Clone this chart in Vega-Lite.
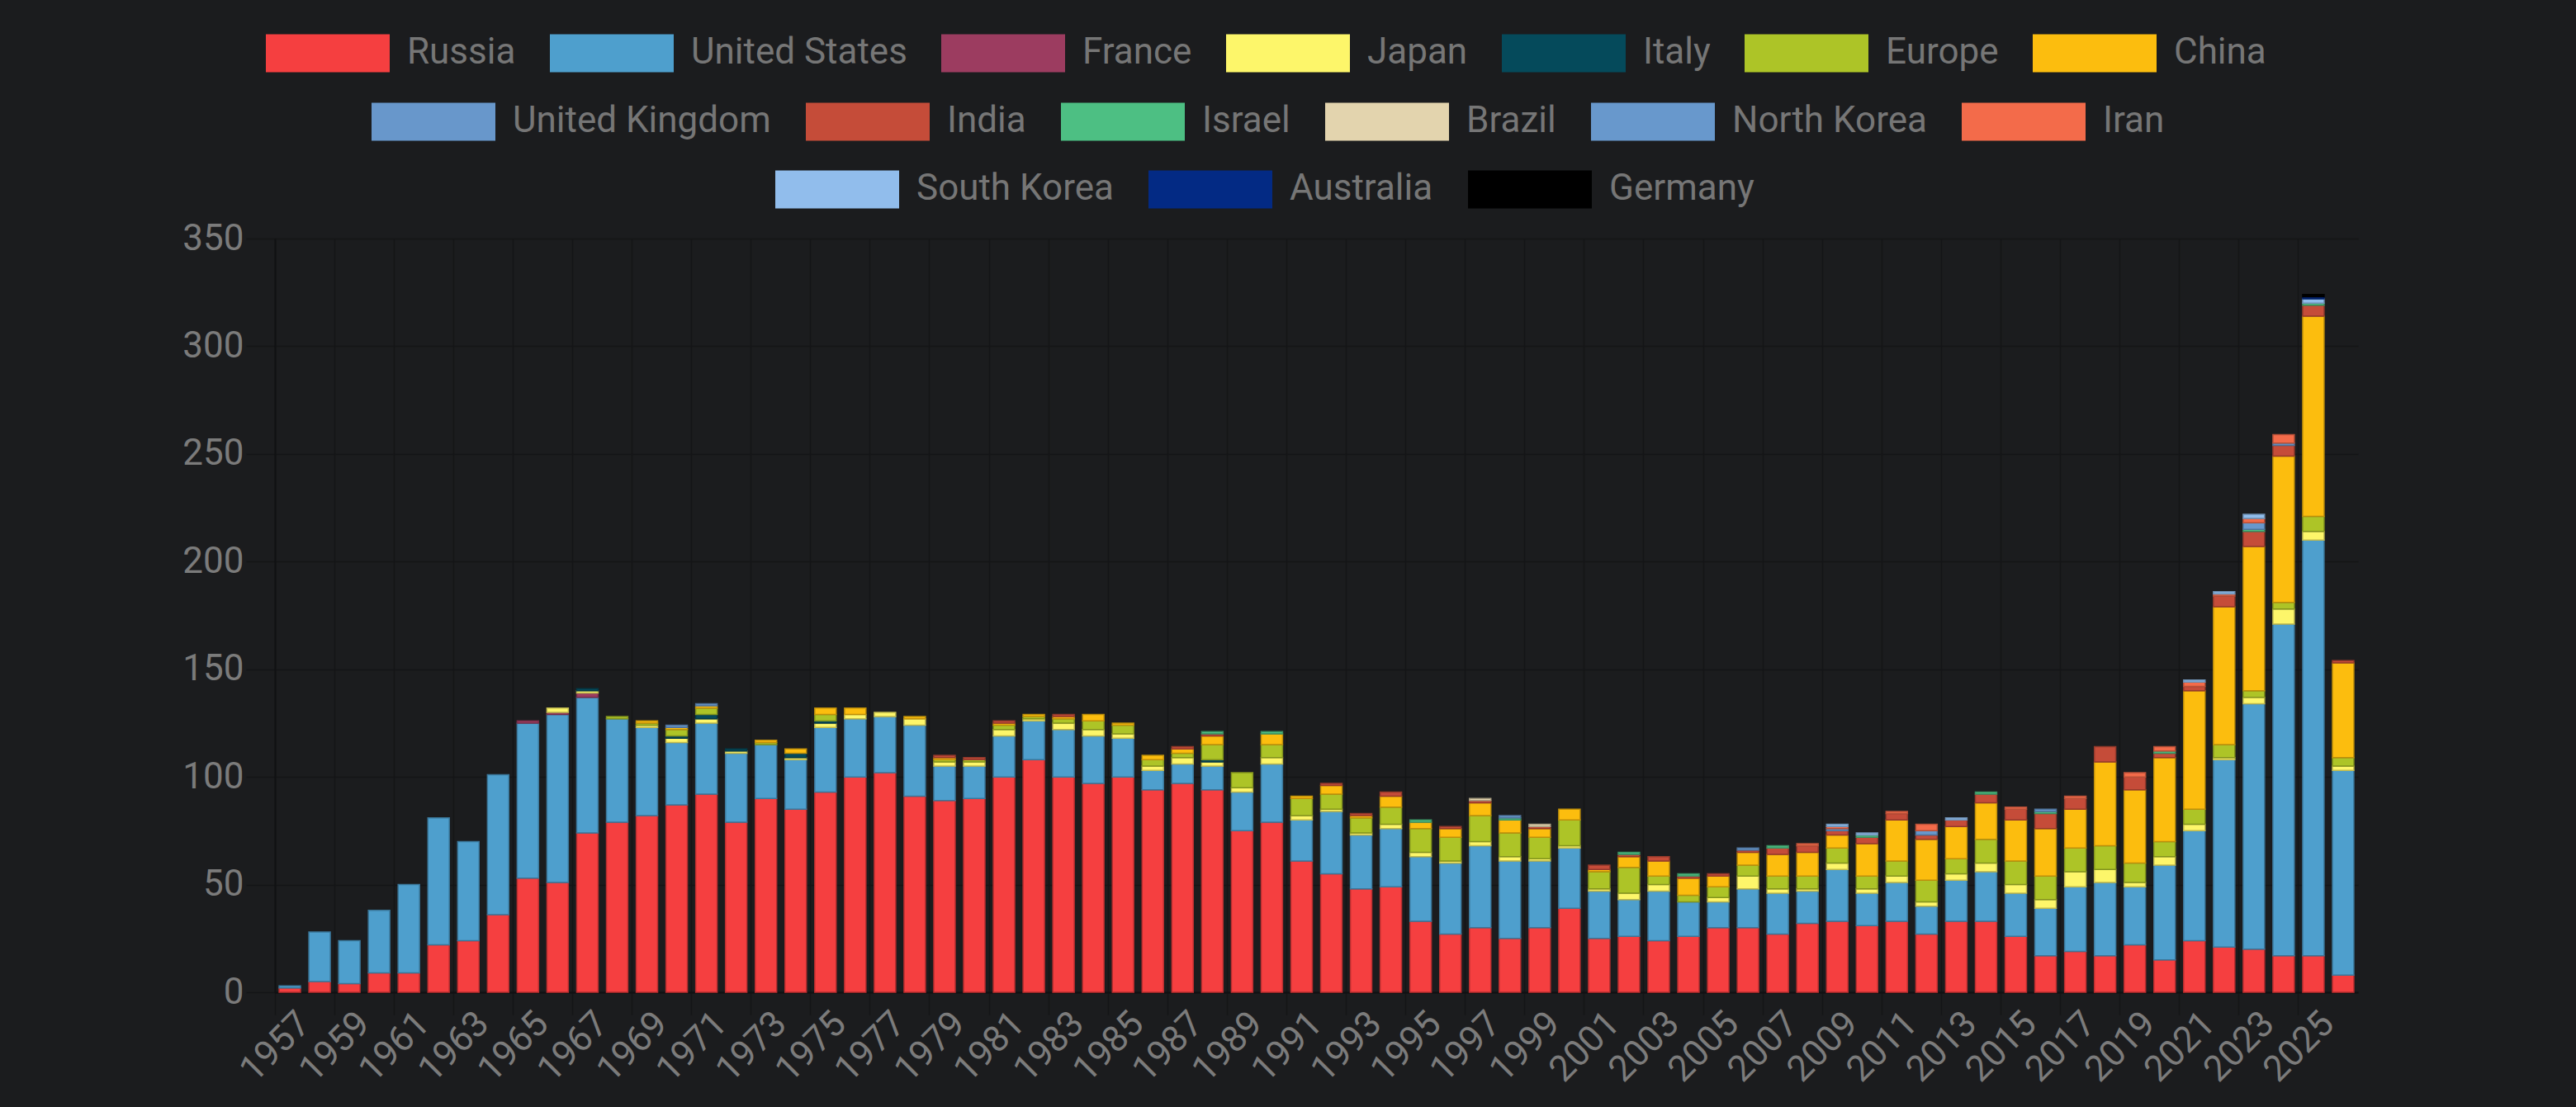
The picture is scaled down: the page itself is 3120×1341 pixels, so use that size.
{
"$schema":"https://vega.github.io/schema/vega-lite/v6.json",
"width":2523,"height":913,
"autosize":{"type":"none"},
"padding":{"left":333,"top":289,"right":264,"bottom":139},
"background":"#1b1c1e",
"config":{"view":{"stroke":null},"font":"Roboto"},
"datasets":{
"stackOrder":[{"country":"Russia","rank":1},{"country":"United States","rank":2},{"country":"France","rank":3},{"country":"Japan","rank":4},{"country":"Italy","rank":5},{"country":"Europe","rank":6},{"country":"China","rank":7},{"country":"United Kingdom","rank":8},{"country":"India","rank":9},{"country":"Israel","rank":10},{"country":"Brazil","rank":11},{"country":"North Korea","rank":12},{"country":"Iran","rank":13},{"country":"South Korea","rank":14},{"country":"Australia","rank":15},{"country":"Germany","rank":16}],
"launches":[
{"year":1957,"country":"Russia","launches":2},{"year":1957,"country":"United States","launches":1},
{"year":1958,"country":"Russia","launches":5},{"year":1958,"country":"United States","launches":23},
{"year":1959,"country":"Russia","launches":4},{"year":1959,"country":"United States","launches":20},
{"year":1960,"country":"Russia","launches":9},{"year":1960,"country":"United States","launches":29},
{"year":1961,"country":"Russia","launches":9},{"year":1961,"country":"United States","launches":41},
{"year":1962,"country":"Russia","launches":22},{"year":1962,"country":"United States","launches":59},
{"year":1963,"country":"Russia","launches":24},{"year":1963,"country":"United States","launches":46},
{"year":1964,"country":"Russia","launches":36},{"year":1964,"country":"United States","launches":65},
{"year":1965,"country":"Russia","launches":53},{"year":1965,"country":"United States","launches":72},{"year":1965,"country":"France","launches":1},
{"year":1966,"country":"Russia","launches":51},{"year":1966,"country":"United States","launches":78},{"year":1966,"country":"France","launches":1},{"year":1966,"country":"Japan","launches":2},
{"year":1967,"country":"Russia","launches":74},{"year":1967,"country":"United States","launches":63},{"year":1967,"country":"France","launches":2},{"year":1967,"country":"Japan","launches":1},{"year":1967,"country":"Italy","launches":1},
{"year":1968,"country":"Russia","launches":79},{"year":1968,"country":"United States","launches":48},{"year":1968,"country":"Europe","launches":1},
{"year":1969,"country":"Russia","launches":82},{"year":1969,"country":"United States","launches":41},{"year":1969,"country":"Japan","launches":1},{"year":1969,"country":"Europe","launches":1},{"year":1969,"country":"China","launches":1},
{"year":1970,"country":"Russia","launches":87},{"year":1970,"country":"United States","launches":29},{"year":1970,"country":"Japan","launches":2},{"year":1970,"country":"Italy","launches":1},{"year":1970,"country":"Europe","launches":3},{"year":1970,"country":"China","launches":1},{"year":1970,"country":"United Kingdom","launches":1},
{"year":1971,"country":"Russia","launches":92},{"year":1971,"country":"United States","launches":33},{"year":1971,"country":"Japan","launches":2},{"year":1971,"country":"Italy","launches":2},{"year":1971,"country":"Europe","launches":3},{"year":1971,"country":"China","launches":1},{"year":1971,"country":"United Kingdom","launches":1},
{"year":1972,"country":"Russia","launches":79},{"year":1972,"country":"United States","launches":32},{"year":1972,"country":"Japan","launches":1},{"year":1972,"country":"Italy","launches":1},
{"year":1973,"country":"Russia","launches":90},{"year":1973,"country":"United States","launches":25},{"year":1973,"country":"Europe","launches":1},{"year":1973,"country":"China","launches":1},
{"year":1974,"country":"Russia","launches":85},{"year":1974,"country":"United States","launches":23},{"year":1974,"country":"Japan","launches":1},{"year":1974,"country":"Italy","launches":2},{"year":1974,"country":"China","launches":2},
{"year":1975,"country":"Russia","launches":93},{"year":1975,"country":"United States","launches":30},{"year":1975,"country":"Japan","launches":2},{"year":1975,"country":"Italy","launches":1},{"year":1975,"country":"Europe","launches":3},{"year":1975,"country":"China","launches":3},
{"year":1976,"country":"Russia","launches":100},{"year":1976,"country":"United States","launches":27},{"year":1976,"country":"Japan","launches":2},{"year":1976,"country":"China","launches":3},
{"year":1977,"country":"Russia","launches":102},{"year":1977,"country":"United States","launches":26},{"year":1977,"country":"Japan","launches":2},
{"year":1978,"country":"Russia","launches":91},{"year":1978,"country":"United States","launches":33},{"year":1978,"country":"Japan","launches":3},{"year":1978,"country":"China","launches":1},
{"year":1979,"country":"Russia","launches":89},{"year":1979,"country":"United States","launches":16},{"year":1979,"country":"Japan","launches":2},{"year":1979,"country":"Europe","launches":1},{"year":1979,"country":"China","launches":1},{"year":1979,"country":"India","launches":1},
{"year":1980,"country":"Russia","launches":90},{"year":1980,"country":"United States","launches":15},{"year":1980,"country":"Japan","launches":2},{"year":1980,"country":"Europe","launches":1},{"year":1980,"country":"India","launches":1},
{"year":1981,"country":"Russia","launches":100},{"year":1981,"country":"United States","launches":19},{"year":1981,"country":"Japan","launches":3},{"year":1981,"country":"Europe","launches":2},{"year":1981,"country":"China","launches":1},{"year":1981,"country":"India","launches":1},
{"year":1982,"country":"Russia","launches":108},{"year":1982,"country":"United States","launches":18},{"year":1982,"country":"Japan","launches":1},{"year":1982,"country":"Europe","launches":1},{"year":1982,"country":"China","launches":1},
{"year":1983,"country":"Russia","launches":100},{"year":1983,"country":"United States","launches":22},{"year":1983,"country":"Japan","launches":3},{"year":1983,"country":"Europe","launches":2},{"year":1983,"country":"China","launches":1},{"year":1983,"country":"India","launches":1},
{"year":1984,"country":"Russia","launches":97},{"year":1984,"country":"United States","launches":22},{"year":1984,"country":"Japan","launches":3},{"year":1984,"country":"Europe","launches":4},{"year":1984,"country":"China","launches":3},
{"year":1985,"country":"Russia","launches":100},{"year":1985,"country":"United States","launches":18},{"year":1985,"country":"Japan","launches":2},{"year":1985,"country":"Europe","launches":4},{"year":1985,"country":"China","launches":1},
{"year":1986,"country":"Russia","launches":94},{"year":1986,"country":"United States","launches":9},{"year":1986,"country":"Japan","launches":2},{"year":1986,"country":"Europe","launches":3},{"year":1986,"country":"China","launches":2},
{"year":1987,"country":"Russia","launches":97},{"year":1987,"country":"United States","launches":9},{"year":1987,"country":"Japan","launches":3},{"year":1987,"country":"Europe","launches":2},{"year":1987,"country":"China","launches":2},{"year":1987,"country":"India","launches":1},
{"year":1988,"country":"Russia","launches":94},{"year":1988,"country":"United States","launches":11},{"year":1988,"country":"Japan","launches":2},{"year":1988,"country":"Italy","launches":1},{"year":1988,"country":"Europe","launches":7},{"year":1988,"country":"China","launches":4},{"year":1988,"country":"India","launches":1},{"year":1988,"country":"Israel","launches":1},
{"year":1989,"country":"Russia","launches":75},{"year":1989,"country":"United States","launches":18},{"year":1989,"country":"Japan","launches":2},{"year":1989,"country":"Europe","launches":7},
{"year":1990,"country":"Russia","launches":79},{"year":1990,"country":"United States","launches":27},{"year":1990,"country":"Japan","launches":3},{"year":1990,"country":"Europe","launches":6},{"year":1990,"country":"China","launches":5},{"year":1990,"country":"Israel","launches":1},
{"year":1991,"country":"Russia","launches":61},{"year":1991,"country":"United States","launches":19},{"year":1991,"country":"Japan","launches":2},{"year":1991,"country":"Europe","launches":8},{"year":1991,"country":"China","launches":1},
{"year":1992,"country":"Russia","launches":55},{"year":1992,"country":"United States","launches":29},{"year":1992,"country":"Japan","launches":1},{"year":1992,"country":"Europe","launches":7},{"year":1992,"country":"China","launches":4},{"year":1992,"country":"India","launches":1},
{"year":1993,"country":"Russia","launches":48},{"year":1993,"country":"United States","launches":25},{"year":1993,"country":"Japan","launches":1},{"year":1993,"country":"Europe","launches":7},{"year":1993,"country":"China","launches":1},{"year":1993,"country":"India","launches":1},
{"year":1994,"country":"Russia","launches":49},{"year":1994,"country":"United States","launches":27},{"year":1994,"country":"Japan","launches":2},{"year":1994,"country":"Europe","launches":8},{"year":1994,"country":"China","launches":5},{"year":1994,"country":"India","launches":2},
{"year":1995,"country":"Russia","launches":33},{"year":1995,"country":"United States","launches":30},{"year":1995,"country":"Japan","launches":2},{"year":1995,"country":"Europe","launches":11},{"year":1995,"country":"China","launches":3},{"year":1995,"country":"Israel","launches":1},
{"year":1996,"country":"Russia","launches":27},{"year":1996,"country":"United States","launches":33},{"year":1996,"country":"Japan","launches":1},{"year":1996,"country":"Europe","launches":11},{"year":1996,"country":"China","launches":4},{"year":1996,"country":"India","launches":1},
{"year":1997,"country":"Russia","launches":30},{"year":1997,"country":"United States","launches":38},{"year":1997,"country":"Japan","launches":2},{"year":1997,"country":"Europe","launches":12},{"year":1997,"country":"China","launches":6},{"year":1997,"country":"India","launches":1},{"year":1997,"country":"Brazil","launches":1},
{"year":1998,"country":"Russia","launches":25},{"year":1998,"country":"United States","launches":36},{"year":1998,"country":"Japan","launches":2},{"year":1998,"country":"Europe","launches":11},{"year":1998,"country":"China","launches":6},{"year":1998,"country":"Israel","launches":1},{"year":1998,"country":"North Korea","launches":1},
{"year":1999,"country":"Russia","launches":30},{"year":1999,"country":"United States","launches":31},{"year":1999,"country":"Japan","launches":1},{"year":1999,"country":"Europe","launches":10},{"year":1999,"country":"China","launches":4},{"year":1999,"country":"India","launches":1},{"year":1999,"country":"Brazil","launches":1},
{"year":2000,"country":"Russia","launches":39},{"year":2000,"country":"United States","launches":28},{"year":2000,"country":"Japan","launches":1},{"year":2000,"country":"Europe","launches":12},{"year":2000,"country":"China","launches":5},
{"year":2001,"country":"Russia","launches":25},{"year":2001,"country":"United States","launches":22},{"year":2001,"country":"Japan","launches":1},{"year":2001,"country":"Europe","launches":8},{"year":2001,"country":"China","launches":1},{"year":2001,"country":"India","launches":2},
{"year":2002,"country":"Russia","launches":26},{"year":2002,"country":"United States","launches":17},{"year":2002,"country":"Japan","launches":3},{"year":2002,"country":"Europe","launches":12},{"year":2002,"country":"China","launches":5},{"year":2002,"country":"India","launches":1},{"year":2002,"country":"Israel","launches":1},
{"year":2003,"country":"Russia","launches":24},{"year":2003,"country":"United States","launches":23},{"year":2003,"country":"Japan","launches":3},{"year":2003,"country":"Europe","launches":4},{"year":2003,"country":"China","launches":7},{"year":2003,"country":"India","launches":2},
{"year":2004,"country":"Russia","launches":26},{"year":2004,"country":"United States","launches":16},{"year":2004,"country":"Europe","launches":3},{"year":2004,"country":"China","launches":8},{"year":2004,"country":"India","launches":1},{"year":2004,"country":"Israel","launches":1},
{"year":2005,"country":"Russia","launches":30},{"year":2005,"country":"United States","launches":12},{"year":2005,"country":"Japan","launches":2},{"year":2005,"country":"Europe","launches":5},{"year":2005,"country":"China","launches":5},{"year":2005,"country":"India","launches":1},
{"year":2006,"country":"Russia","launches":30},{"year":2006,"country":"United States","launches":18},{"year":2006,"country":"Japan","launches":6},{"year":2006,"country":"Europe","launches":5},{"year":2006,"country":"China","launches":6},{"year":2006,"country":"India","launches":1},{"year":2006,"country":"North Korea","launches":1},
{"year":2007,"country":"Russia","launches":27},{"year":2007,"country":"United States","launches":19},{"year":2007,"country":"Japan","launches":2},{"year":2007,"country":"Europe","launches":6},{"year":2007,"country":"China","launches":10},{"year":2007,"country":"India","launches":3},{"year":2007,"country":"Israel","launches":1},
{"year":2008,"country":"Russia","launches":32},{"year":2008,"country":"United States","launches":15},{"year":2008,"country":"Japan","launches":1},{"year":2008,"country":"Europe","launches":6},{"year":2008,"country":"China","launches":11},{"year":2008,"country":"India","launches":3},{"year":2008,"country":"Iran","launches":1},
{"year":2009,"country":"Russia","launches":33},{"year":2009,"country":"United States","launches":24},{"year":2009,"country":"Japan","launches":3},{"year":2009,"country":"Europe","launches":7},{"year":2009,"country":"China","launches":6},{"year":2009,"country":"India","launches":2},{"year":2009,"country":"North Korea","launches":1},{"year":2009,"country":"Iran","launches":1},{"year":2009,"country":"South Korea","launches":1},
{"year":2010,"country":"Russia","launches":31},{"year":2010,"country":"United States","launches":15},{"year":2010,"country":"Japan","launches":2},{"year":2010,"country":"Europe","launches":6},{"year":2010,"country":"China","launches":15},{"year":2010,"country":"India","launches":3},{"year":2010,"country":"Israel","launches":1},{"year":2010,"country":"South Korea","launches":1},
{"year":2011,"country":"Russia","launches":33},{"year":2011,"country":"United States","launches":18},{"year":2011,"country":"Japan","launches":3},{"year":2011,"country":"Europe","launches":7},{"year":2011,"country":"China","launches":19},{"year":2011,"country":"India","launches":3},{"year":2011,"country":"Iran","launches":1},
{"year":2012,"country":"Russia","launches":27},{"year":2012,"country":"United States","launches":13},{"year":2012,"country":"Japan","launches":2},{"year":2012,"country":"Europe","launches":10},{"year":2012,"country":"China","launches":19},{"year":2012,"country":"India","launches":2},{"year":2012,"country":"North Korea","launches":2},{"year":2012,"country":"Iran","launches":3},
{"year":2013,"country":"Russia","launches":33},{"year":2013,"country":"United States","launches":19},{"year":2013,"country":"Japan","launches":3},{"year":2013,"country":"Europe","launches":7},{"year":2013,"country":"China","launches":15},{"year":2013,"country":"India","launches":3},{"year":2013,"country":"South Korea","launches":1},
{"year":2014,"country":"Russia","launches":33},{"year":2014,"country":"United States","launches":23},{"year":2014,"country":"Japan","launches":4},{"year":2014,"country":"Europe","launches":11},{"year":2014,"country":"China","launches":17},{"year":2014,"country":"India","launches":4},{"year":2014,"country":"Israel","launches":1},
{"year":2015,"country":"Russia","launches":26},{"year":2015,"country":"United States","launches":20},{"year":2015,"country":"Japan","launches":4},{"year":2015,"country":"Europe","launches":11},{"year":2015,"country":"China","launches":19},{"year":2015,"country":"India","launches":5},{"year":2015,"country":"Iran","launches":1},
{"year":2016,"country":"Russia","launches":17},{"year":2016,"country":"United States","launches":22},{"year":2016,"country":"Japan","launches":4},{"year":2016,"country":"Europe","launches":11},{"year":2016,"country":"China","launches":22},{"year":2016,"country":"India","launches":7},{"year":2016,"country":"Israel","launches":1},{"year":2016,"country":"North Korea","launches":1},
{"year":2017,"country":"Russia","launches":19},{"year":2017,"country":"United States","launches":30},{"year":2017,"country":"Japan","launches":7},{"year":2017,"country":"Europe","launches":11},{"year":2017,"country":"China","launches":18},{"year":2017,"country":"India","launches":5},{"year":2017,"country":"Iran","launches":1},
{"year":2018,"country":"Russia","launches":17},{"year":2018,"country":"United States","launches":34},{"year":2018,"country":"Japan","launches":6},{"year":2018,"country":"Europe","launches":11},{"year":2018,"country":"China","launches":39},{"year":2018,"country":"India","launches":7},
{"year":2019,"country":"Russia","launches":22},{"year":2019,"country":"United States","launches":27},{"year":2019,"country":"Japan","launches":2},{"year":2019,"country":"Europe","launches":9},{"year":2019,"country":"China","launches":34},{"year":2019,"country":"India","launches":6},{"year":2019,"country":"Iran","launches":2},
{"year":2020,"country":"Russia","launches":15},{"year":2020,"country":"United States","launches":44},{"year":2020,"country":"Japan","launches":4},{"year":2020,"country":"Europe","launches":7},{"year":2020,"country":"China","launches":39},{"year":2020,"country":"India","launches":2},{"year":2020,"country":"Israel","launches":1},{"year":2020,"country":"Iran","launches":2},
{"year":2021,"country":"Russia","launches":24},{"year":2021,"country":"United States","launches":51},{"year":2021,"country":"Japan","launches":3},{"year":2021,"country":"Europe","launches":7},{"year":2021,"country":"China","launches":55},{"year":2021,"country":"India","launches":2},{"year":2021,"country":"Iran","launches":2},{"year":2021,"country":"South Korea","launches":1},
{"year":2022,"country":"Russia","launches":21},{"year":2022,"country":"United States","launches":87},{"year":2022,"country":"Japan","launches":1},{"year":2022,"country":"Europe","launches":6},{"year":2022,"country":"China","launches":64},{"year":2022,"country":"India","launches":5},{"year":2022,"country":"Iran","launches":1},{"year":2022,"country":"South Korea","launches":1},
{"year":2023,"country":"Russia","launches":20},{"year":2023,"country":"United States","launches":114},{"year":2023,"country":"Japan","launches":3},{"year":2023,"country":"Europe","launches":3},{"year":2023,"country":"China","launches":67},{"year":2023,"country":"India","launches":7},{"year":2023,"country":"Israel","launches":1},{"year":2023,"country":"North Korea","launches":3},{"year":2023,"country":"Iran","launches":2},{"year":2023,"country":"South Korea","launches":2},
{"year":2024,"country":"Russia","launches":17},{"year":2024,"country":"United States","launches":154},{"year":2024,"country":"Japan","launches":7},{"year":2024,"country":"Europe","launches":3},{"year":2024,"country":"China","launches":68},{"year":2024,"country":"India","launches":5},{"year":2024,"country":"North Korea","launches":1},{"year":2024,"country":"Iran","launches":4},
{"year":2025,"country":"Russia","launches":17},{"year":2025,"country":"United States","launches":193},{"year":2025,"country":"Japan","launches":4},{"year":2025,"country":"Europe","launches":7},{"year":2025,"country":"China","launches":93},{"year":2025,"country":"India","launches":5},{"year":2025,"country":"Israel","launches":1},{"year":2025,"country":"South Korea","launches":2},{"year":2025,"country":"Australia","launches":1},{"year":2025,"country":"Germany","launches":1},
{"year":2026,"country":"Russia","launches":8},{"year":2026,"country":"United States","launches":95},{"year":2026,"country":"Japan","launches":2},{"year":2026,"country":"Europe","launches":4},{"year":2026,"country":"China","launches":44},{"year":2026,"country":"India","launches":1}
]},
"data":{"name":"launches"},
"layer":[
{"transform":[{"lookup":"country","from":{"data":{"name":"stackOrder"},"key":"country","fields":["rank"]}}],
"mark":{"type":"bar","width":{"band":0.72},"strokeWidth":1.5},
"encoding":{
"x":{"field":"year","type":"ordinal","scale":{"paddingInner":0,"paddingOuter":0},
"axis":{"values":[1957,1959,1961,1963,1965,1967,1969,1971,1973,1975,1977,1979,1981,1983,1985,1987,1989,1991,1993,1995,1997,1999,2001,2003,2005,2007,2009,2011,2013,2015,2017,2019,2021,2023,2025],
"title":null,"bandPosition":0,"grid":true,"gridColor":"#141517","gridWidth":1.5,"domainColor":"#101113","domainWidth":2,"tickColor":"#141517","tickWidth":1.5,"tickSize":27,"labelAngle":-45,"labelAlign":"right","labelBaseline":"middle","labelOffset":18,"labelFontSize":44,"labelColor":"#7b7b7b","labelPadding":4,"labelFont":"Roboto"}},
"y":{"field":"launches","type":"quantitative","stack":"zero","scale":{"domain":[0,350],"nice":false},
"axis":{"values":[0,50,100,150,200,250,300,350],"title":null,"grid":true,"gridColor":"#141517","gridWidth":1.5,"domainColor":"#101113","domainWidth":2,"tickColor":"#141517","tickWidth":1.5,"tickSize":35,"labelFontSize":44,"labelColor":"#7b7b7b","labelPadding":3,"labelFont":"Roboto"}},
"order":{"field":"rank","type":"quantitative","sort":"ascending"},
"color":{"field":"country","type":"nominal",
"scale":{"domain":["Russia","United States","France","Japan","Italy","Europe","China","United Kingdom","India","Israel","Brazil","North Korea","Iran","South Korea","Australia","Germany"],
"range":["#f53f40","#4e9fcd","#9c3c60","#fdf66a","#054a5b","#adc427","#fcbd0e","#6897cb","#c54c39","#4dbf83","#e3d4ae","#6898cc","#f36b4a","#91bdec","#032a84","#000000"]},
"legend":{"orient":"none","legendX":-11,"legendY":-300,"direction":"horizontal","title":null,
"values":["Russia","United States","France","Japan","Italy","Europe","China"],
"symbolType":"M-1,-0.3067L1,-0.3067L1,0.3067L-1,0.3067Z","symbolSize":22500,"symbolStrokeWidth":0,"symbolOpacity":1,
"labelFontSize":44,"labelColor":"#767676","labelFont":"Roboto","labelOffset":21,"labelLimit":0,"columnPadding":41,"padding":0}},
"stroke":{"field":"country","type":"nominal",
"scale":{"domain":["Russia","United States","France","Japan","Italy","Europe","China","United Kingdom","India","Israel","Brazil","North Korea","Iran","South Korea","Australia","Germany"],
"range":["#b82e2f","#3a779a","#752d48","#beb84f","#043844","#82931d","#bd8e0a","#4e7198","#94392b","#3a8f62","#aa9f82","#4e7299","#b65038","#6d8eb1","#021f63","#000000"]},
"legend":null}
}},
{"transform":[{"filter":{"field":"country","oneOf":["United Kingdom","India","Israel","Brazil","North Korea","Iran"]}}],
"mark":{"type":"point","filled":true,"opacity":0},
"encoding":{"color":{"field":"country","type":"nominal",
"scale":{"domain":["United Kingdom","India","Israel","Brazil","North Korea","Iran"],"range":["#6897cb","#c54c39","#4dbf83","#e3d4ae","#6898cc","#f36b4a"]},
"legend":{"orient":"none","legendX":117,"legendY":-217,"direction":"horizontal","title":null,
"symbolType":"M-1,-0.3067L1,-0.3067L1,0.3067L-1,0.3067Z","symbolSize":22500,"symbolStrokeWidth":0,"symbolOpacity":1,
"labelFontSize":44,"labelColor":"#767676","labelFont":"Roboto","labelOffset":21,"labelLimit":0,"columnPadding":42,"padding":0}}}},
{"transform":[{"filter":{"field":"country","oneOf":["South Korea","Australia","Germany"]}}],
"mark":{"type":"point","filled":true,"opacity":0},
"encoding":{"color":{"field":"country","type":"nominal",
"scale":{"domain":["South Korea","Australia","Germany"],"range":["#91bdec","#032a84","#000000"]},
"legend":{"orient":"none","legendX":606,"legendY":-135,"direction":"horizontal","title":null,
"symbolType":"M-1,-0.3067L1,-0.3067L1,0.3067L-1,0.3067Z","symbolSize":22500,"symbolStrokeWidth":0,"symbolOpacity":1,
"labelFontSize":44,"labelColor":"#767676","labelFont":"Roboto","labelOffset":21,"labelLimit":0,"columnPadding":42,"padding":0}}}}
],
"resolve":{"scale":{"color":"independent"}}
}
